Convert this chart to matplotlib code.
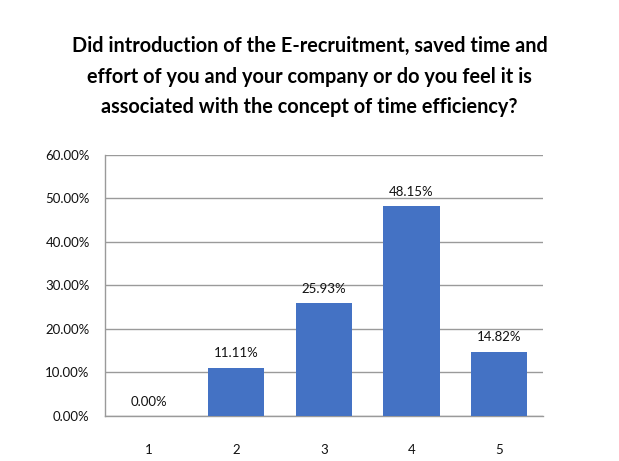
import matplotlib
matplotlib.use("Agg")
from matplotlib import pyplot as plt
import numpy as np

# --- data ---
categories = ["1", "2", "3", "4", "5"]
values = [0.00, 11.11, 25.93, 48.15, 14.82]
value_labels = ["0.00%", "11.11%", "25.93%", "48.15%", "14.82%"]
y_ticks = [0, 10, 20, 30, 40, 50, 60]
y_tick_labels = ["0.00%", "10.00%", "20.00%", "30.00%", "40.00%", "50.00%", "60.00%"]
title = ("Did introduction of the E-recruitment, saved time and\n"
         "effort of you and your company or do you feel it is\n"
         "associated with the concept of time efficiency?")

plt.rcParams['font.family'] = ['Lato', 'DejaVu Sans']

fig = plt.figure(figsize=(6.19, 4.61), dpi=100)
ax = fig.add_axes([0.1696, 0.0976, 0.877 - 0.1696, 0.664 - 0.0976])

x = np.arange(len(categories))
ax.bar(x, values, width=0.64, color="#4472C4", zorder=3)

for xi, v, lab in zip(x, values, value_labels):
    ax.annotate(lab, (xi, v), xytext=(0, 6), textcoords="offset points",
                ha="center", va="bottom", fontsize=9.5, color="#111111")

ax.set_xlim(-0.5, len(categories) - 0.5)
ax.set_ylim(0, 60)
ax.set_yticks(y_ticks)
ax.set_yticklabels(y_tick_labels, fontsize=9.5, color="#111111")
ax.set_xticks(x)
ax.set_xticklabels(categories, fontsize=9.5, color="#111111")
ax.tick_params(axis="y", length=0, pad=11)
ax.tick_params(axis="x", length=0, pad=20)

ax.grid(axis="y", color="#9A9A9A", linewidth=1, zorder=0)
for s in ["top", "right"]:
    ax.spines[s].set_visible(False)
for s in ["left", "bottom"]:
    ax.spines[s].set_color("#9A9A9A")
    ax.spines[s].set_linewidth(1)

fig.text(0.5, 0.922, title, ha="center", va="top", fontsize=14.3,
         fontweight="bold", linespacing=1.66, color="#000000")

fig.savefig("out.png", dpi=100)
